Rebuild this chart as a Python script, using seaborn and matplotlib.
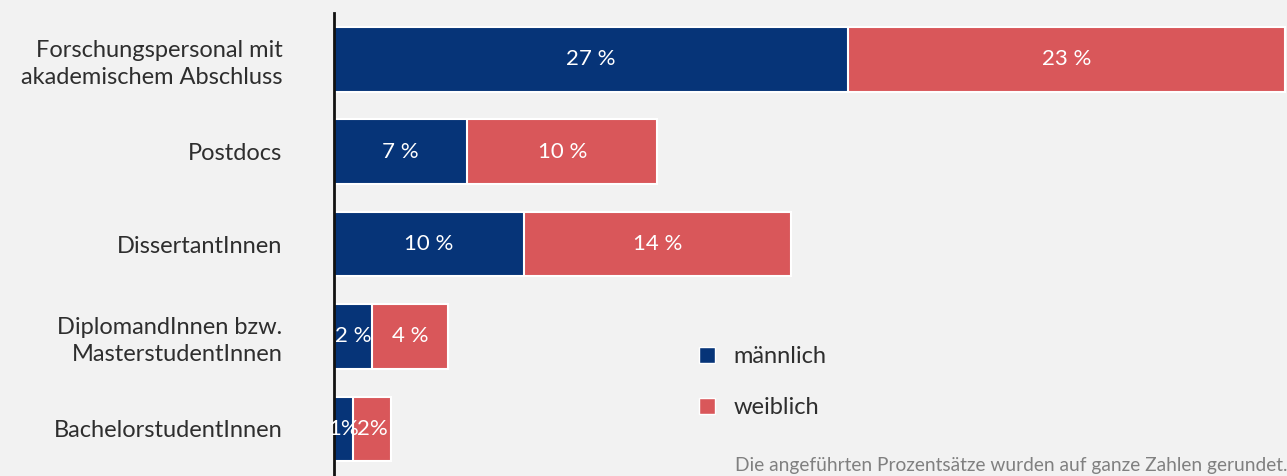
import matplotlib
matplotlib.use("Agg")
import matplotlib.pyplot as plt
import seaborn as sns
import pandas as pd
from matplotlib.patches import Patch

categories = ["Forschungspersonal mit\nakademischem Abschluss", "Postdocs", "DissertantInnen",
              "DiplomandInnen bzw.\nMasterstudentInnen", "BachelorstudentInnen"]
maennlich = [27, 7, 10, 2, 1]
weiblich = [23, 10, 14, 4, 2]
label_m = ["27 %", "7 %", "10 %", "2 %", "1%"]
label_w = ["23 %", "10 %", "14 %", "4 %", "2%"]

navy = "#063478"
red = "#d9575a"
bg = "#f2f2f2"

df = pd.DataFrame({"cat": categories, "m": maennlich, "w": weiblich})
df["total"] = df["m"] + df["w"]

sns.set_theme(style="white")
plt.rcParams["font.family"] = ["Lato", "DejaVu Sans"]

fig = plt.figure(figsize=(12.87, 4.76), dpi=100, facecolor=bg)
ax = fig.add_axes([334 / 1287, 0, 1 - 334 / 1287, 1 - 13 / 476])
ax.set_facecolor(bg)

sns.barplot(data=df, x="total", y="cat", color=red, saturation=1, width=0.7,
            edgecolor="white", linewidth=1.5, ax=ax)
sns.barplot(data=df, x="m", y="cat", color=navy, saturation=1, width=0.7,
            edgecolor="white", linewidth=1.5, ax=ax)

for i, (m, w) in enumerate(zip(maennlich, weiblich)):
    ax.text(m / 2, i, label_m[i], ha="center", va="center", color="white", fontsize=16)
    ax.text(m + w / 2, i, label_w[i], ha="center", va="center", color="white", fontsize=16)

ax.set_xlim(0, 50.1)
ax.set_ylim(4.51, -0.5)
ax.set_xlabel("")
ax.set_ylabel("")
ax.set_xticks([])
for s in ["top", "right", "bottom"]:
    ax.spines[s].set_visible(False)
ax.spines["left"].set_color("#111111")
ax.spines["left"].set_linewidth(2)
ax.tick_params(axis="y", length=0, pad=37, labelsize=17, labelcolor="#2e2e2e")
for t in ax.get_yticklabels():
    t.set_linespacing(1.35)

handles = [Patch(facecolor=navy, label="männlich"), Patch(facecolor=red, label="weiblich")]
fig.legend(handles=handles, loc="upper left", bbox_to_anchor=(690 / 1287, 1 - 337 / 476),
           frameon=False, fontsize=17, handlelength=0.65, handleheight=0.65,
           handletextpad=0.8, labelspacing=1.25, labelcolor="#2e2e2e",
           borderaxespad=0, borderpad=0.4)

fig.text(735 / 1287, 1 - 466 / 476, "Die angeführten Prozentsätze wurden auf ganze Zahlen gerundet.",
         ha="left", va="center", fontsize=13.8, color="#808080")

fig.savefig("out.png", dpi=100, facecolor=bg)
